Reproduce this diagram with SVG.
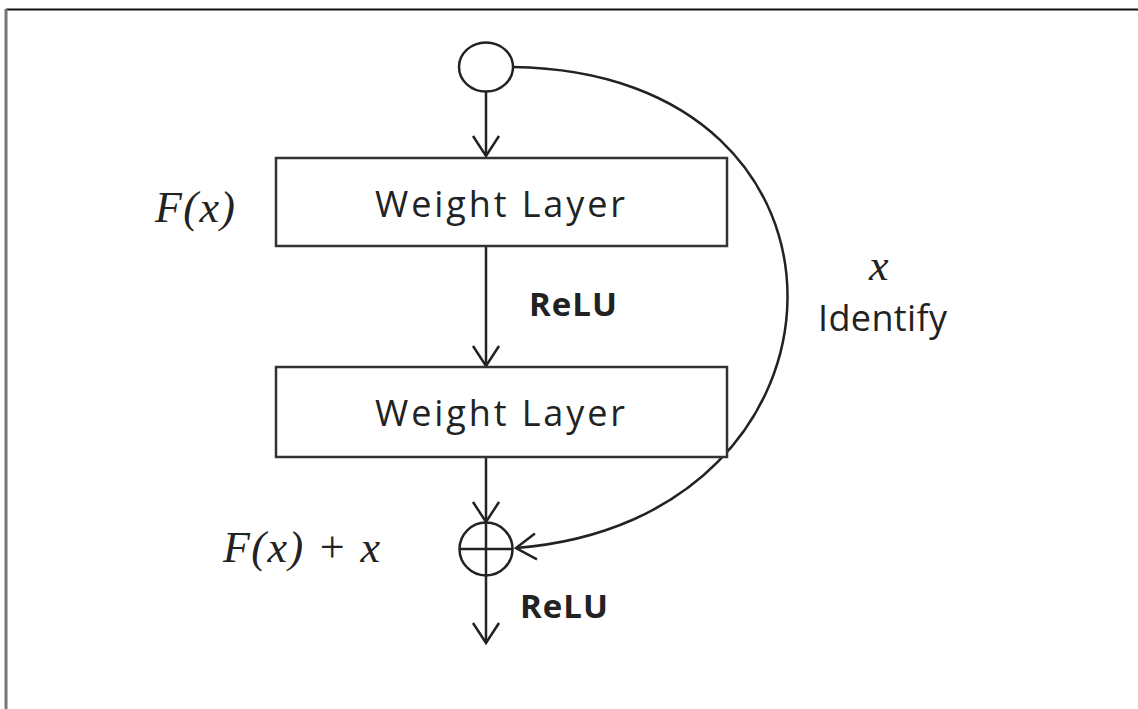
<svg xmlns="http://www.w3.org/2000/svg" width="1138" height="709" viewBox="0 0 1138 709">
  <style>
    .frame-top { stroke: #111; stroke-width: 2; }
    .frame-left { stroke: #777; stroke-width: 3; }
    .box { fill: #fff; stroke: #333; stroke-width: 2.5; }
    .node { fill: #fff; stroke: #222; stroke-width: 2.5; }
    .wire { fill: none; stroke: #222; stroke-width: 2.5; }
    .label { font-family: "Open Sans", "Noto Sans", sans-serif; font-size: 36px; fill: #222; }
    .bold { font-weight: bold; font-size: 33px; }
    .math { font-family: "Liberation Serif", "DejaVu Serif", serif; font-style: italic; font-size: 44px; fill: #222; }
  </style>
  <defs>
    <marker id="arrow" markerUnits="userSpaceOnUse" markerWidth="40" markerHeight="40" refX="0" refY="0" orient="auto" overflow="visible" viewBox="-30 -20 40 40">
      <path d="M-20,-13 L0,0 L-20,13" fill="none" stroke="#222" stroke-width="2.5" stroke-linejoin="miter"/>
    </marker>
  </defs>

  <!-- frame -->
  <line class="frame-top" x1="6" y1="9.5" x2="1138" y2="9.5"/>
  <line class="frame-left" x1="6" y1="9" x2="6" y2="709"/>

  <!-- connectors -->
  <g id="connectors">
    <line class="wire" x1="486" y1="91" x2="486" y2="156" marker-end="url(#arrow)"/>
    <line class="wire" x1="486" y1="246" x2="486" y2="366" marker-end="url(#arrow)"/>
    <line class="wire" x1="486" y1="457" x2="486" y2="522" marker-end="url(#arrow)"/>
    <line class="wire" x1="486" y1="575" x2="486" y2="643" marker-end="url(#arrow)"/>
    <path class="wire" d="M513,67 C885,72 872,520 516,548" marker-end="url(#arrow)"/>
  </g>

  <!-- input node -->
  <g id="input">
    <ellipse class="node" cx="486" cy="67" rx="27" ry="24.5"/>
  </g>

  <!-- first weight layer -->
  <g id="weight1">
    <rect class="box" x="276" y="158" width="451" height="88"/>
    <text class="label" x="375" y="217" textLength="250" lengthAdjust="spacing">Weight Layer</text>
  </g>

  <!-- second weight layer -->
  <g id="weight2">
    <rect class="box" x="276" y="367" width="451" height="90"/>
    <text class="label" x="375" y="426" textLength="250" lengthAdjust="spacing">Weight Layer</text>
  </g>

  <!-- sum node -->
  <g id="sum">
    <circle class="node" cx="486" cy="549" r="26.5"/>
    <line class="wire" x1="459.5" y1="549" x2="512.5" y2="549"/>
    <line class="wire" x1="486" y1="522.5" x2="486" y2="575.5"/>
  </g>

  <!-- labels -->
  <g id="labels">
    <text class="math" x="155" y="222" textLength="80" lengthAdjust="spacing">F(x)</text>
    <text class="math" x="223" y="562" textLength="157" lengthAdjust="spacing">F(x) + x</text>
    <text class="math" x="869" y="280">x</text>
    <text class="label" x="818" y="331" font-size="34" textLength="129" lengthAdjust="spacing">Identify</text>
    <text class="label bold" x="529" y="316" textLength="88" lengthAdjust="spacing">ReLU</text>
    <text class="label bold" x="520" y="618" textLength="88" lengthAdjust="spacing">ReLU</text>
  </g>
</svg>
